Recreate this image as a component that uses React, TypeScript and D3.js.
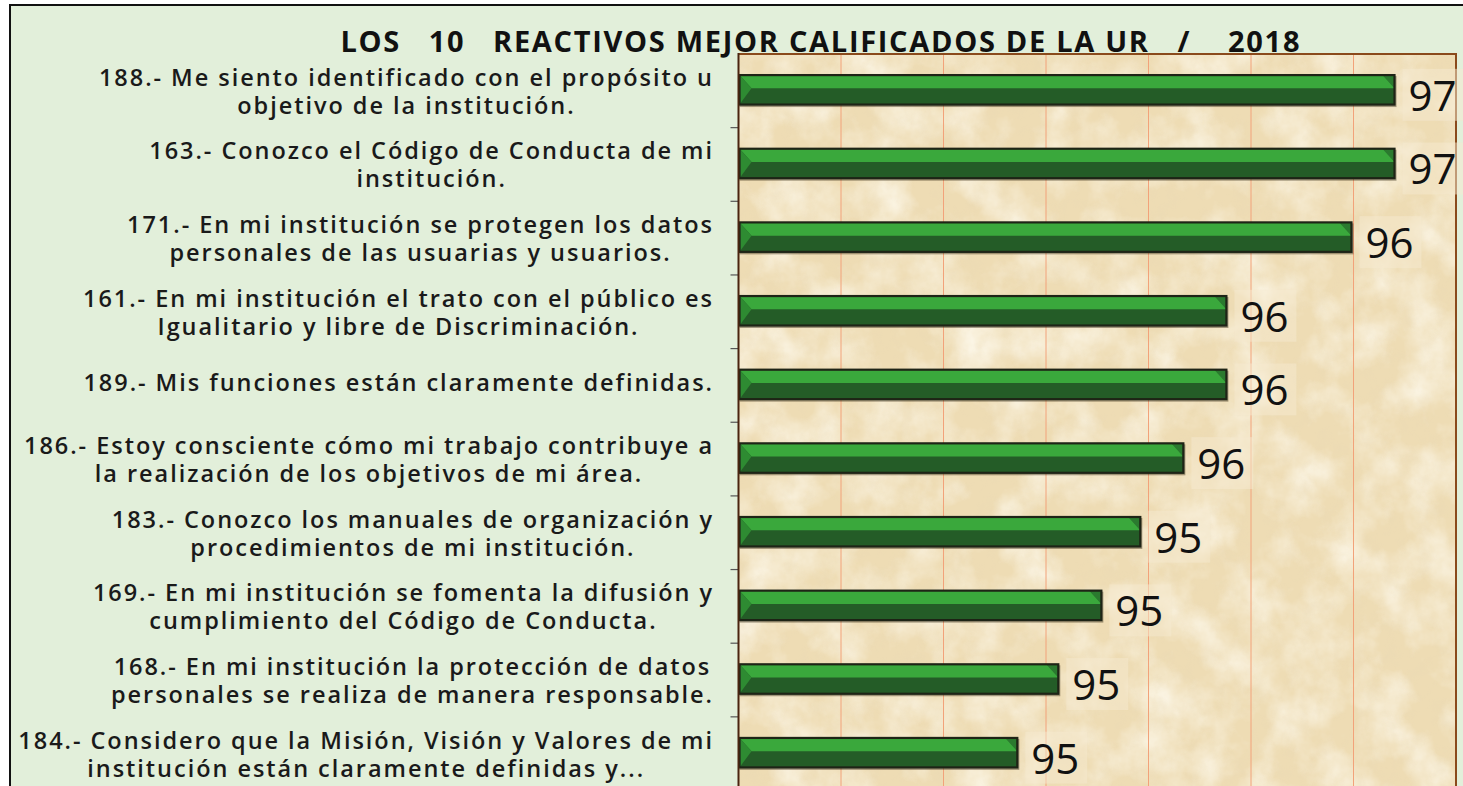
import { useEffect, useRef } from 'react';
import * as d3 from 'd3';

// label lines for each item (top to bottom)
const labels: string[][] = [
  ['188.- Me siento identificado con el propósito u', 'objetivo de la institución.'],
  ['163.- Conozco el Código de Conducta de mi', 'institución.'],
  ['171.- En mi institución se protegen los datos', 'personales de las usuarias y usuarios.'],
  ['161.- En mi institución el trato con el público es', 'Igualitario y libre de Discriminación.'],
  ['189.- Mis funciones están claramente definidas.'],
  ['186.- Estoy consciente cómo mi trabajo contribuye a', 'la realización de los objetivos de mi área.'],
  ['183.- Conozco los manuales de organización y', 'procedimientos de mi institución.'],
  ['169.- En mi institución se fomenta la difusión y', 'cumplimiento del Código de Conducta.'],
  ['168.- En mi institución la protección de datos', 'personales se realiza de manera responsable.'],
  ['184.- Considero que la Misión, Visión y Valores de mi', 'institución están claramente definidas y...'],
];
const codes = ['188', '163', '171', '161', '189', '186', '183', '169', '168', '184'];
const values = [96.6, 96.6, 96.39, 95.78, 95.78, 95.57, 95.36, 95.17, 94.96, 94.76];
const xDomain: [number, number] = [93.4, 96.9];
const gridStep = 0.5;
const title = 'LOS   10   REACTIVOS MEJOR CALIFICADOS DE LA UR   /    2018';

const W = 1463;
const H = 786;
const labelFont = '"Open Sans", sans-serif';
const labelSize = 23.5;

const App = () => {
  const ref = useRef<SVGSVGElement>(null);

  useEffect(() => {
    document.body.style.margin = '0';
    const svg = d3.select(ref.current);
    svg.selectAll('*').remove();

    const defs = svg.append('defs');
    const f = defs.append('filter').attr('id', 'paper').attr('x', 0).attr('y', 0).attr('width', 1).attr('height', 1);
    f.append('feTurbulence').attr('type', 'fractalNoise').attr('baseFrequency', 0.022).attr('numOctaves', 5).attr('seed', 3);
    f.append('feColorMatrix').attr('type', 'matrix')
      .attr('values', '0 0 0 0 0.98  0 0 0 0 0.94  0 0 0 0 0.83  1.6 0 0 0 -0.6');
    const f2 = defs.append('filter').attr('id', 'paper2').attr('x', 0).attr('y', 0).attr('width', 1).attr('height', 1);
    f2.append('feTurbulence').attr('type', 'fractalNoise').attr('baseFrequency', 0.06).attr('numOctaves', 3).attr('seed', 9);
    f2.append('feColorMatrix').attr('type', 'matrix')
      .attr('values', '0 0 0 0 0.80  0 0 0 0 0.68  0 0 0 0 0.46  1.4 0 0 0 -0.66');

    // page + outer box
    svg.append('rect').attr('width', W).attr('height', H).attr('fill', '#ffffff');
    svg.append('rect').attr('x', 10).attr('y', 5).attr('width', W + 10).attr('height', H + 10)
      .attr('fill', '#e2efda').attr('stroke', '#111').attr('stroke-width', 2);

    const left = 738.5;
    const right = 1456;
    const top = 54;
    const bottom = 790.5;

    const x = d3.scaleLinear().domain(xDomain).range([left, right]);
    const y = d3.scaleBand<string>().domain(codes).range([top, bottom]).paddingInner(0.6).paddingOuter(0.3);
    const step = y.step();
    const bw = y.bandwidth();

    // plot area (parchment)
    svg.append('rect').attr('x', left).attr('y', top).attr('width', right - left).attr('height', bottom - top)
      .attr('fill', '#eedcb4');
    svg.append('rect').attr('x', left).attr('y', top).attr('width', right - left).attr('height', bottom - top)
      .attr('filter', 'url(#paper)');
    svg.append('rect').attr('x', left).attr('y', top).attr('width', right - left).attr('height', bottom - top)
      .attr('filter', 'url(#paper2)').attr('opacity', 0.45);

    // gridlines
    const gridVals = d3.range(xDomain[0] + gridStep, xDomain[1] - 0.01, gridStep);
    svg.append('g').selectAll('line').data(gridVals).enter().append('line')
      .attr('x1', (d) => x(d)).attr('x2', (d) => x(d))
      .attr('y1', top).attr('y2', bottom)
      .attr('stroke', '#f2a27a').attr('stroke-width', 1);

    // borders
    svg.append('line').attr('x1', left).attr('x2', right + 1).attr('y1', top).attr('y2', top)
      .attr('stroke', '#8a4a1c').attr('stroke-width', 2);
    svg.append('line').attr('x1', right).attr('x2', right).attr('y1', top).attr('y2', bottom)
      .attr('stroke', '#8a4a1c').attr('stroke-width', 2);

    // ticks at band boundaries
    svg.append('g').selectAll('line').data(codes.slice(1)).enter().append('line')
      .attr('x1', left - 8).attr('x2', left)
      .attr('y1', (d) => (y(d) as number) + bw / 2 - step / 2)
      .attr('y2', (d) => (y(d) as number) + bw / 2 - step / 2)
      .attr('stroke', '#555').attr('stroke-width', 1.2);

    // bars
    const b = 12;
    const bars = svg.append('g').selectAll('g').data(values).enter().append('g');
    bars.each(function (v, i) {
      const g = d3.select(this);
      const x0 = left + 1;
      const x1 = x(v);
      const y0 = (y(codes[i]) as number) - 1;
      const y1 = y0 + bw;
      const ym = y0 + bw * 0.45;
      g.append('rect').attr('x', x0).attr('y', y0 + 1).attr('width', x1 - x0 + 2).attr('height', bw + 1.5)
        .attr('fill', 'rgba(40,30,10,0.4)');
      g.append('rect').attr('x', x0).attr('y', y0).attr('width', x1 - x0).attr('height', bw)
        .attr('fill', '#245c27');
      g.append('polygon').attr('points', `${x1 - b},${y0} ${x1},${y0} ${x1},${ym}`).attr('fill', '#2b7a2f');
      g.append('polygon').attr('points', `${x0},${y0} ${x1 - b},${y0} ${x1},${ym} ${x0 + b},${ym}`)
        .attr('fill', '#3aa83c');
      g.append('polygon').attr('points', `${x0},${y0} ${x0 + b},${ym} ${x0},${y1}`).attr('fill', '#2e8b32');
      g.append('rect').attr('x', x0).attr('y', y0).attr('width', x1 - x0).attr('height', bw)
        .attr('fill', 'none').attr('stroke', '#1e2416').attr('stroke-width', 2.2);
    });

    // value labels
    const vl = svg.append('g').selectAll('g').data(values).enter().append('g');
    vl.append('rect')
      .attr('x', (d) => x(d) + 8).attr('y', (d, i) => (y(codes[i]) as number) + bw / 2 - 22)
      .attr('width', 62).attr('height', 52).attr('fill', '#f6ead0').attr('opacity', 0.5);
    vl.append('text')
      .attr('x', (d) => x(d) + 14)
      .attr('y', (d, i) => (y(codes[i]) as number) + bw / 2 + 20)
      .attr('font-family', '"Open Sans", sans-serif').attr('font-size', 42).attr('font-weight', 500)
      .attr('fill', '#111')
      .text((d) => d3.format('.0f')(d));

    // y axis line
    svg.append('line').attr('x1', left).attr('x2', left).attr('y1', top - 1).attr('y2', bottom)
      .attr('stroke', '#4a2410').attr('stroke-width', 2);

    // category labels: letter spacing chosen so the "186" first line spans ~690px like the original
    const probe = svg.append('text').attr('font-family', labelFont).attr('font-size', labelSize).attr('font-weight', 600)
      .text(labels[5][0]);
    const natural = (probe.node() as SVGTextElement).getComputedTextLength();
    probe.remove();
    const spacing = Math.max(0, (690 - natural) / labels[5][0].length);

    const labelRight = 714;
    labels.forEach((lines, i) => {
      const cy = (y(codes[i]) as number) + bw / 2;
      const gl = svg.append('g');
      const texts = lines.map((ln, j) =>
        gl.append('text')
          .attr('y', lines.length === 1 ? cy - 3 : cy - 14 + j * 28)
          .attr('dominant-baseline', 'central')
          .attr('text-anchor', 'middle')
          .attr('font-family', labelFont).attr('font-size', labelSize).attr('font-weight', 600)
          .attr('letter-spacing', spacing)
          .attr('fill', '#1a1a1a')
          .text(ln)
      );
      const maxW = d3.max(texts, (t) => (t.node() as SVGTextElement).getComputedTextLength()) || 0;
      texts.forEach((t) => t.attr('x', labelRight - maxW / 2));
    });

    // title
    svg.append('text')
      .attr('x', 820).attr('y', 52)
      .attr('text-anchor', 'middle')
      .attr('font-family', '"Open Sans", sans-serif').attr('font-size', 29).attr('font-weight', 700)
      .attr('fill', '#111')
      .style('white-space', 'pre')
      .attr('textLength', 959).attr('lengthAdjust', 'spacing')
      .text(title);
  }, []);

  return <svg ref={ref} width={W} height={H} style={{ display: 'block' }} />;
};

export default App;
